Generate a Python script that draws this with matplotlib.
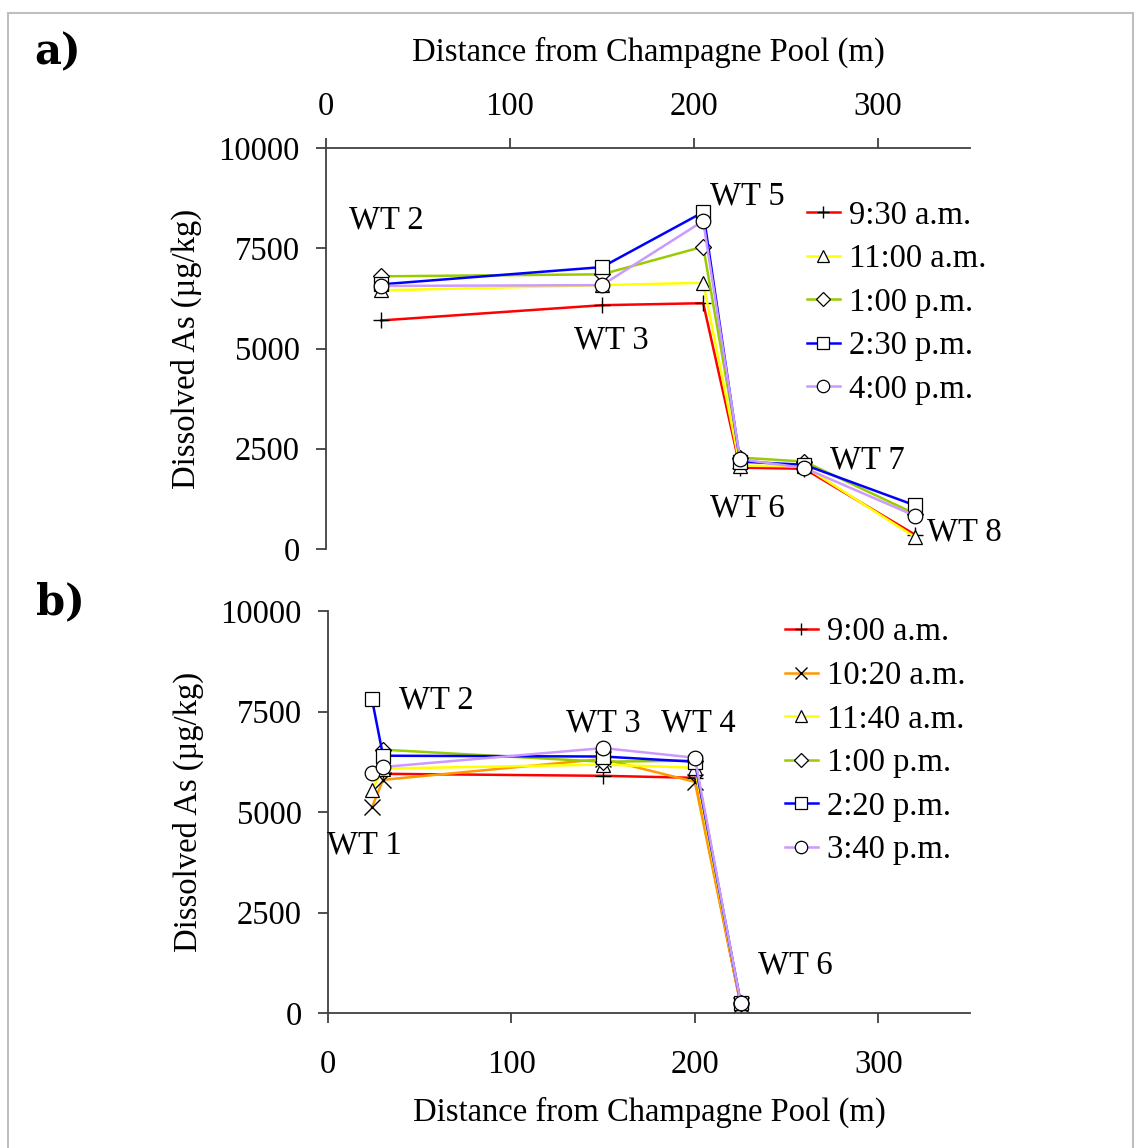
import numpy as np
import matplotlib.pyplot as plt
from matplotlib.patches import Rectangle

plt.rcParams['font.family'] = ['Liberation Serif', 'DejaVu Serif']

# ---- panel a data ----
xa = [30, 150, 205, 225, 260, 320]
labels_a = ['9:30 a.m.', '11:00 a.m.', '1:00 p.m.', '2:30 p.m.', '4:00 p.m.']
ya_0930 = [5700, 6080, 6130, 2030, 2000, 360]
ya_1100 = [6450, 6580, 6640, 2080, 2060, 300]
ya_1300 = [6800, 6850, 7540, 2280, 2180, 880]
ya_1430 = [6600, 7030, 8400, 2180, 2100, 1090]
ya_1600 = [6560, 6580, 8180, 2240, 2020, 830]

# ---- panel b data ----
labels_b = ['9:00 a.m.', '10:20 a.m.', '11:40 a.m.', '1:00 p.m.', '2:20 p.m.', '3:40 p.m.']
xb_0900 = [30, 150, 200, 225]
yb_0900 = [5950, 5900, 5850, 200]
xb_1020 = [24, 30, 150, 200, 225]
yb_1020 = [5120, 5800, 6320, 5750, 200]
xb_1140 = [24, 30, 150, 200, 225]
yb_1140 = [5550, 6080, 6180, 6100, 250]
xb_1300 = [30, 150, 200, 225]
yb_1300 = [6550, 6250, 6280, 250]
xb_1420 = [24, 30, 150, 200, 225]
yb_1420 = [7800, 6400, 6380, 6250, 250]
xb_1540 = [24, 30, 150, 200, 225]
yb_1540 = [5980, 6120, 6590, 6350, 250]

colors_a = ['#ff0000', '#ffff00', '#99cc00', '#0000ff', '#cc99ff']
markers_a = ['+', '^', 'D', 's', 'o']
colors_b = ['#ff0000', '#ff9900', '#ffff00', '#99cc00', '#0000ff', '#cc99ff']
markers_b = ['+', 'x', '^', 'D', 's', 'o']

fs = 23.5
axc = '#404040'

fig = plt.figure(figsize=(11.35, 11.48), dpi=100)
fig.patches.append(Rectangle((8/1135, -0.01), (1133-8)/1135, 1.01 - 13/1148,
                             transform=fig.transFigure, fill=False,
                             edgecolor='#bfbfbf', linewidth=1.5))

ax1 = fig.add_axes([326/1135, 1-549/1148, 644/1135, 401/1148])
ax2 = fig.add_axes([328/1135, 1-1013/1148, 642/1135, 402/1148])


def style_marker(m):
    # marker sizes tuned so that all symbols look about the same size
    if m == 'D':
        return dict(markersize=8.5, markeredgewidth=0.9)
    if m in ('+', 'x'):
        return dict(markersize=11, markeredgewidth=1.0)
    return dict(markersize=10.5, markeredgewidth=0.9)


series_a = [ya_0930, ya_1100, ya_1300, ya_1430, ya_1600]
for y, c, m, lab in zip(series_a, colors_a, markers_a, labels_a):
    ax1.plot(xa, y, color=c, lw=1.8, marker=m, markerfacecolor='white',
             markeredgecolor='black', label=lab, **style_marker(m))

series_b = [(xb_0900, yb_0900), (xb_1020, yb_1020), (xb_1140, yb_1140),
            (xb_1300, yb_1300), (xb_1420, yb_1420), (xb_1540, yb_1540)]
for (x, y), c, m, lab in zip(series_b, colors_b, markers_b, labels_b):
    ax2.plot(x, y, color=c, lw=1.8, marker=m, markerfacecolor='white',
             markeredgecolor='black', label=lab, **style_marker(m))

for ax in (ax1, ax2):
    ax.set_xlim(0, 350)
    ax.set_ylim(0, 10000)
    ax.set_xticks([0, 100, 200, 300])
    ax.set_yticks([0, 2500, 5000, 7500, 10000])
    ax.spines['right'].set_visible(False)
    for s in ax.spines.values():
        s.set_color(axc)
        s.set_linewidth(1.3)
    ax.tick_params(colors=axc, labelcolor='black', labelsize=fs, length=7, width=1.3,
                   direction='out')
    ax.tick_params(axis='y', pad=12)
    ax.set_ylabel('Dissolved As (µg/kg)', fontsize=fs, labelpad=12)

# panel a: x axis on top
ax1.spines['bottom'].set_visible(False)
ax1.xaxis.set_ticks_position('top')
ax1.xaxis.set_label_position('top')
ax1.tick_params(axis='x', pad=12)
ax1.set_xlabel('Distance from Champagne Pool (m)', fontsize=fs, labelpad=22)

ax2.spines['top'].set_visible(False)
ax2.tick_params(axis='x', pad=19)
ax2.set_xlabel('Distance from Champagne Pool (m)', fontsize=fs, labelpad=12)

# site labels
for t, x, y in [('WT 2', 33, 8200), ('WT 3', 155, 5210), ('WT 5', 229, 8800),
                ('WT 6', 229, 1020), ('WT 7', 294, 2220), ('WT 8', 347, 420)]:
    ax1.text(x, y, t, fontsize=fs, ha='center', va='center', clip_on=False)
for t, x, y in [('WT 1', 20, 4180), ('WT 2', 59, 7790), ('WT 3', 150, 7215),
                ('WT 4', 202, 7215), ('WT 6', 255, 1190)]:
    ax2.text(x, y, t, fontsize=fs, ha='center', va='center', clip_on=False)

leg_kw = dict(frameon=False, fontsize=fs, handlelength=1.0, handletextpad=0.3,
              labelspacing=0.4, borderaxespad=0, borderpad=0, loc='upper left',
              markerscale=0.85)
ax1.legend(bbox_to_anchor=(807/1135, 1-200/1148), bbox_transform=fig.transFigure, **leg_kw)
ax2.legend(bbox_to_anchor=(785/1135, 1-617/1148), bbox_transform=fig.transFigure, **leg_kw)

fig.text(34/1135, 1-52/1148, 'a)', fontsize=30, fontweight='bold', va='center',
         family=['DejaVu Serif'])
fig.text(36/1135, 1-602/1148, 'b)', fontsize=30, fontweight='bold', va='center',
         family=['DejaVu Serif'])

fig.savefig('out.png', dpi=100)
